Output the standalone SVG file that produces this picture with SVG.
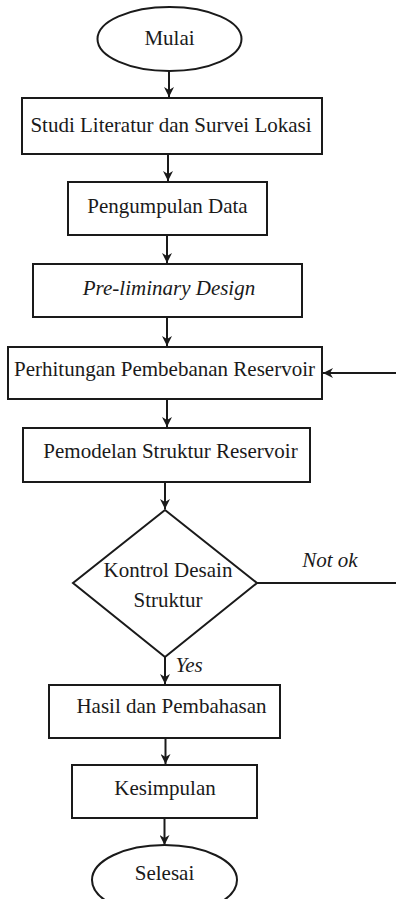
<svg xmlns="http://www.w3.org/2000/svg" width="396" height="899" viewBox="0 0 396 899">
<style>
.s{fill:#fff;stroke:#1a1a1a;stroke-width:2}
.t{font-family:'Liberation Serif',serif;font-size:21px;fill:#1a1a1a;text-anchor:middle}
.i{font-style:italic}
.c{fill:none;stroke:#1a1a1a;stroke-width:2}
</style>
<defs>
<marker id="ah" viewBox="0 0 10 10" refX="10" refY="5" markerWidth="5" markerHeight="5" orient="auto" markerUnits="strokeWidth">
<path d="M0,0 L10,5 L0,10 L3,5 Z" fill="#1a1a1a"/>
</marker>
</defs>
<g id="connectors">
<path class="c" d="M169 71 V97" marker-end="url(#ah)"/>
<path class="c" d="M168 154 V181" marker-end="url(#ah)"/>
<path class="c" d="M167 235 V263" marker-end="url(#ah)"/>
<path class="c" d="M167 317 V346" marker-end="url(#ah)"/>
<path class="c" d="M167 399 V427" marker-end="url(#ah)"/>
<path class="c" d="M165 482 V509" marker-end="url(#ah)"/>
<path class="c" d="M165 657 V684" marker-end="url(#ah)"/>
<path class="c" d="M165.5 738 V764" marker-end="url(#ah)"/>
<path class="c" d="M164.5 818 V845" marker-end="url(#ah)"/>
<path class="c" d="M257 583 H398 V373 H323" marker-end="url(#ah)"/>
<text class="t i" x="330" y="567" font-family="Liberation Serif">Not ok</text>
<text class="t i" x="189" y="672" font-family="Liberation Serif">Yes</text>
</g>
<g id="mulai">
<ellipse class="s" cx="169.5" cy="39" rx="72" ry="32"/>
<text class="t" x="169.5" y="45" font-family="Liberation Serif">Mulai</text>
</g>
<g id="studi">
<rect class="s" x="22" y="98" width="300" height="56"/>
<text class="t" x="171" y="132" font-family="Liberation Serif">Studi Literatur dan Survei Lokasi</text>
</g>
<g id="pengumpulan">
<rect class="s" x="68" y="182" width="199" height="53"/>
<text class="t" x="167.5" y="213" font-family="Liberation Serif">Pengumpulan Data</text>
</g>
<g id="preliminary">
<rect class="s" x="33" y="264" width="269" height="53"/>
<text class="t i" x="169" y="295" font-family="Liberation Serif">Pre-liminary Design</text>
</g>
<g id="perhitungan">
<rect class="s" x="8" y="347" width="314" height="52"/>
<text class="t" x="164.5" y="376" font-family="Liberation Serif">Perhitungan Pembebanan Reservoir</text>
</g>
<g id="pemodelan">
<rect class="s" x="23" y="428" width="287" height="54"/>
<text class="t" x="170.5" y="458" font-family="Liberation Serif">Pemodelan Struktur Reservoir</text>
</g>
<g id="kontrol">
<path class="s" d="M165 510 L257 583 L165 657 L73 583 Z"/>
<text class="t" x="168" y="577" font-family="Liberation Serif">Kontrol Desain</text>
<text class="t" x="168" y="607" font-family="Liberation Serif">Struktur</text>
</g>
<g id="hasil">
<rect class="s" x="49" y="685" width="231" height="53"/>
<text class="t" x="171.5" y="713" font-family="Liberation Serif">Hasil dan Pembahasan</text>
</g>
<g id="kesimpulan">
<rect class="s" x="72" y="765" width="185" height="53"/>
<text class="t" x="165" y="795" font-family="Liberation Serif">Kesimpulan</text>
</g>
<g id="selesai">
<ellipse class="s" cx="164.5" cy="880" rx="72.5" ry="35"/>
<text class="t" x="164.5" y="880" font-family="Liberation Serif">Selesai</text>
</g>
</svg>
